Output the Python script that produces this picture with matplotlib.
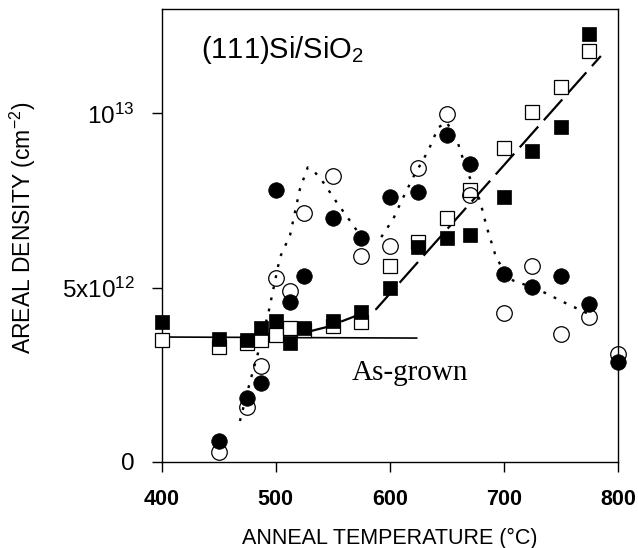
import numpy as np
import matplotlib
matplotlib.use("Agg")
import matplotlib.pyplot as plt

plt.rcParams['font.family'] = ['Liberation Sans', 'DejaVu Sans']
plt.rcParams['mathtext.fontset'] = 'custom'
plt.rcParams['mathtext.rm'] = 'Liberation Sans'
plt.rcParams['mathtext.default'] = 'regular'

# anneal temperatures (C) for the square series
sq_temps = [400, 450, 475, 487.5, 500, 512.5, 525, 550, 575, 600, 625, 650, 670, 700, 725, 750, 775]
# areal density, units of 1e12 cm^-2
sq_filled = [4.01, 3.51, 3.50, 3.83, 4.03, 3.40, 3.83, 4.03, 4.31, 5.00, 6.17, 6.43, 6.51, 7.61, 8.91, 9.62, 12.28]
sq_open = [3.49, 3.28, 3.40, 3.49, 3.63, 3.83, 3.77, 3.91, 4.00, 5.61, 6.30, 7.01, 7.81, 9.02, 10.04, 10.77, 11.80]

# circle series
circ_temps = [450, 475, 487.5, 500, 512.5, 525, 550, 575, 600, 625, 650, 670, 700, 725, 750, 775, 800]
circ_filled = [0.58, 1.84, 2.27, 7.80, 4.58, 5.32, 7.00, 6.42, 7.61, 7.75, 9.37, 8.55, 5.40, 5.01, 5.34, 4.53, 2.87]
circ_open = [0.29, 1.58, 2.75, 5.28, 4.91, 7.15, 8.20, 5.91, 6.20, 8.44, 9.99, 7.65, 4.28, 5.61, 3.68, 4.15, 3.10]

# hand-drawn guide lines
asgrown_x = [400, 623.5]
asgrown_y = [3.58, 3.55]

dash_x = [527, 545, 569, 588, 785]
dash_y = [3.72, 3.87, 4.17, 4.38, 11.65]

dot1_x = [468.6, 477.4, 484.7, 493.4, 503.7, 512.5, 521.2, 528, 534.4, 541.7, 553.4, 565, 573]
dot1_y = [1.17, 2.29, 3.15, 4.25, 5.87, 6.50, 7.83, 8.45, 8.31, 8.02, 7.45, 6.92, 6.55]

dot2_x = [592.5, 603, 610.4, 620.5, 633.7, 642.5, 650, 660, 667.4, 679, 685, 692.2, 700.3, 708.2, 724.9, 731.6, 755, 777]
dot2_y = [6.45, 6.97, 7.50, 8.17, 8.93, 9.60, 9.75, 9.12, 8.36, 7.50, 6.73, 5.97, 5.42, 5.20, 5.01, 4.92, 4.54, 4.20]

E12 = 1e12

fig = plt.figure(figsize=(6.38, 5.48), dpi=100)
ax = fig.add_axes([0.2534, 0.1575, 0.7152, 0.8261])

ax.plot(asgrown_x, np.array(asgrown_y) * E12, color='black', lw=1.2, zorder=2)
ax.plot(dash_x, np.array(dash_y) * E12, color='black', lw=1.6, ls=(0, (12.5, 3.8)), zorder=2)
ax.plot(dot1_x, np.array(dot1_y) * E12, color='black', lw=1.7, ls=(0, (1.2, 3.6)), zorder=2)
ax.plot(dot2_x, np.array(dot2_y) * E12, color='black', lw=1.7, ls=(0, (1.2, 3.6)), zorder=2)

ax.plot(sq_temps, np.array(sq_open) * E12, 's', ms=9.7, mfc='white', mec='black', mew=0.9,
        zorder=3, clip_on=False)
ax.plot(circ_temps, np.array(circ_open) * E12, 'o', ms=11.2, mfc='none', mec='black', mew=0.9,
        zorder=3, clip_on=False)
ax.plot(sq_temps, np.array(sq_filled) * E12, 's', ms=9.7, mfc='black', mec='black', mew=0.5,
        zorder=4, clip_on=False)
ax.plot(circ_temps, np.array(circ_filled) * E12, 'o', ms=11.2, mfc='black', mec='black', mew=0.5,
        zorder=4, clip_on=False)

ax.text(434.2, 11.6 * E12, r'(111)Si/SiO$_{2}$', fontsize=21, ha='left', va='baseline')
ax.text(567, 2.34 * E12, 'As-grown', fontsize=21, family='Liberation Serif', ha='left', va='baseline')

ax.set_xlim(400, 800)
ax.set_ylim(0, 13 * E12)
ax.set_xticks([400, 500, 600, 700, 800])
ax.set_xticklabels(['400', '500', '600', '700', '800'], fontsize=15.5, fontweight='bold')
ax.set_yticks([0, 5 * E12, 10 * E12])
ax.set_yticklabels(['0', r'$5x10^{12}$', r'$10^{13}$'], fontsize=17.5)
ax.tick_params(direction='out', length=7.5, width=1.0, pad=12)

for sp in ax.spines.values():
    sp.set_linewidth(1.0)

ax.set_xlabel('ANNEAL TEMPERATURE (°C)', fontsize=15.5, labelpad=13)
ax.set_ylabel(r'AREAL DENSITY (cm$^{-2}$)', fontsize=16.5)
ax.yaxis.set_label_coords(-0.272, 0.516)

fig.savefig('out.png', dpi=100)
